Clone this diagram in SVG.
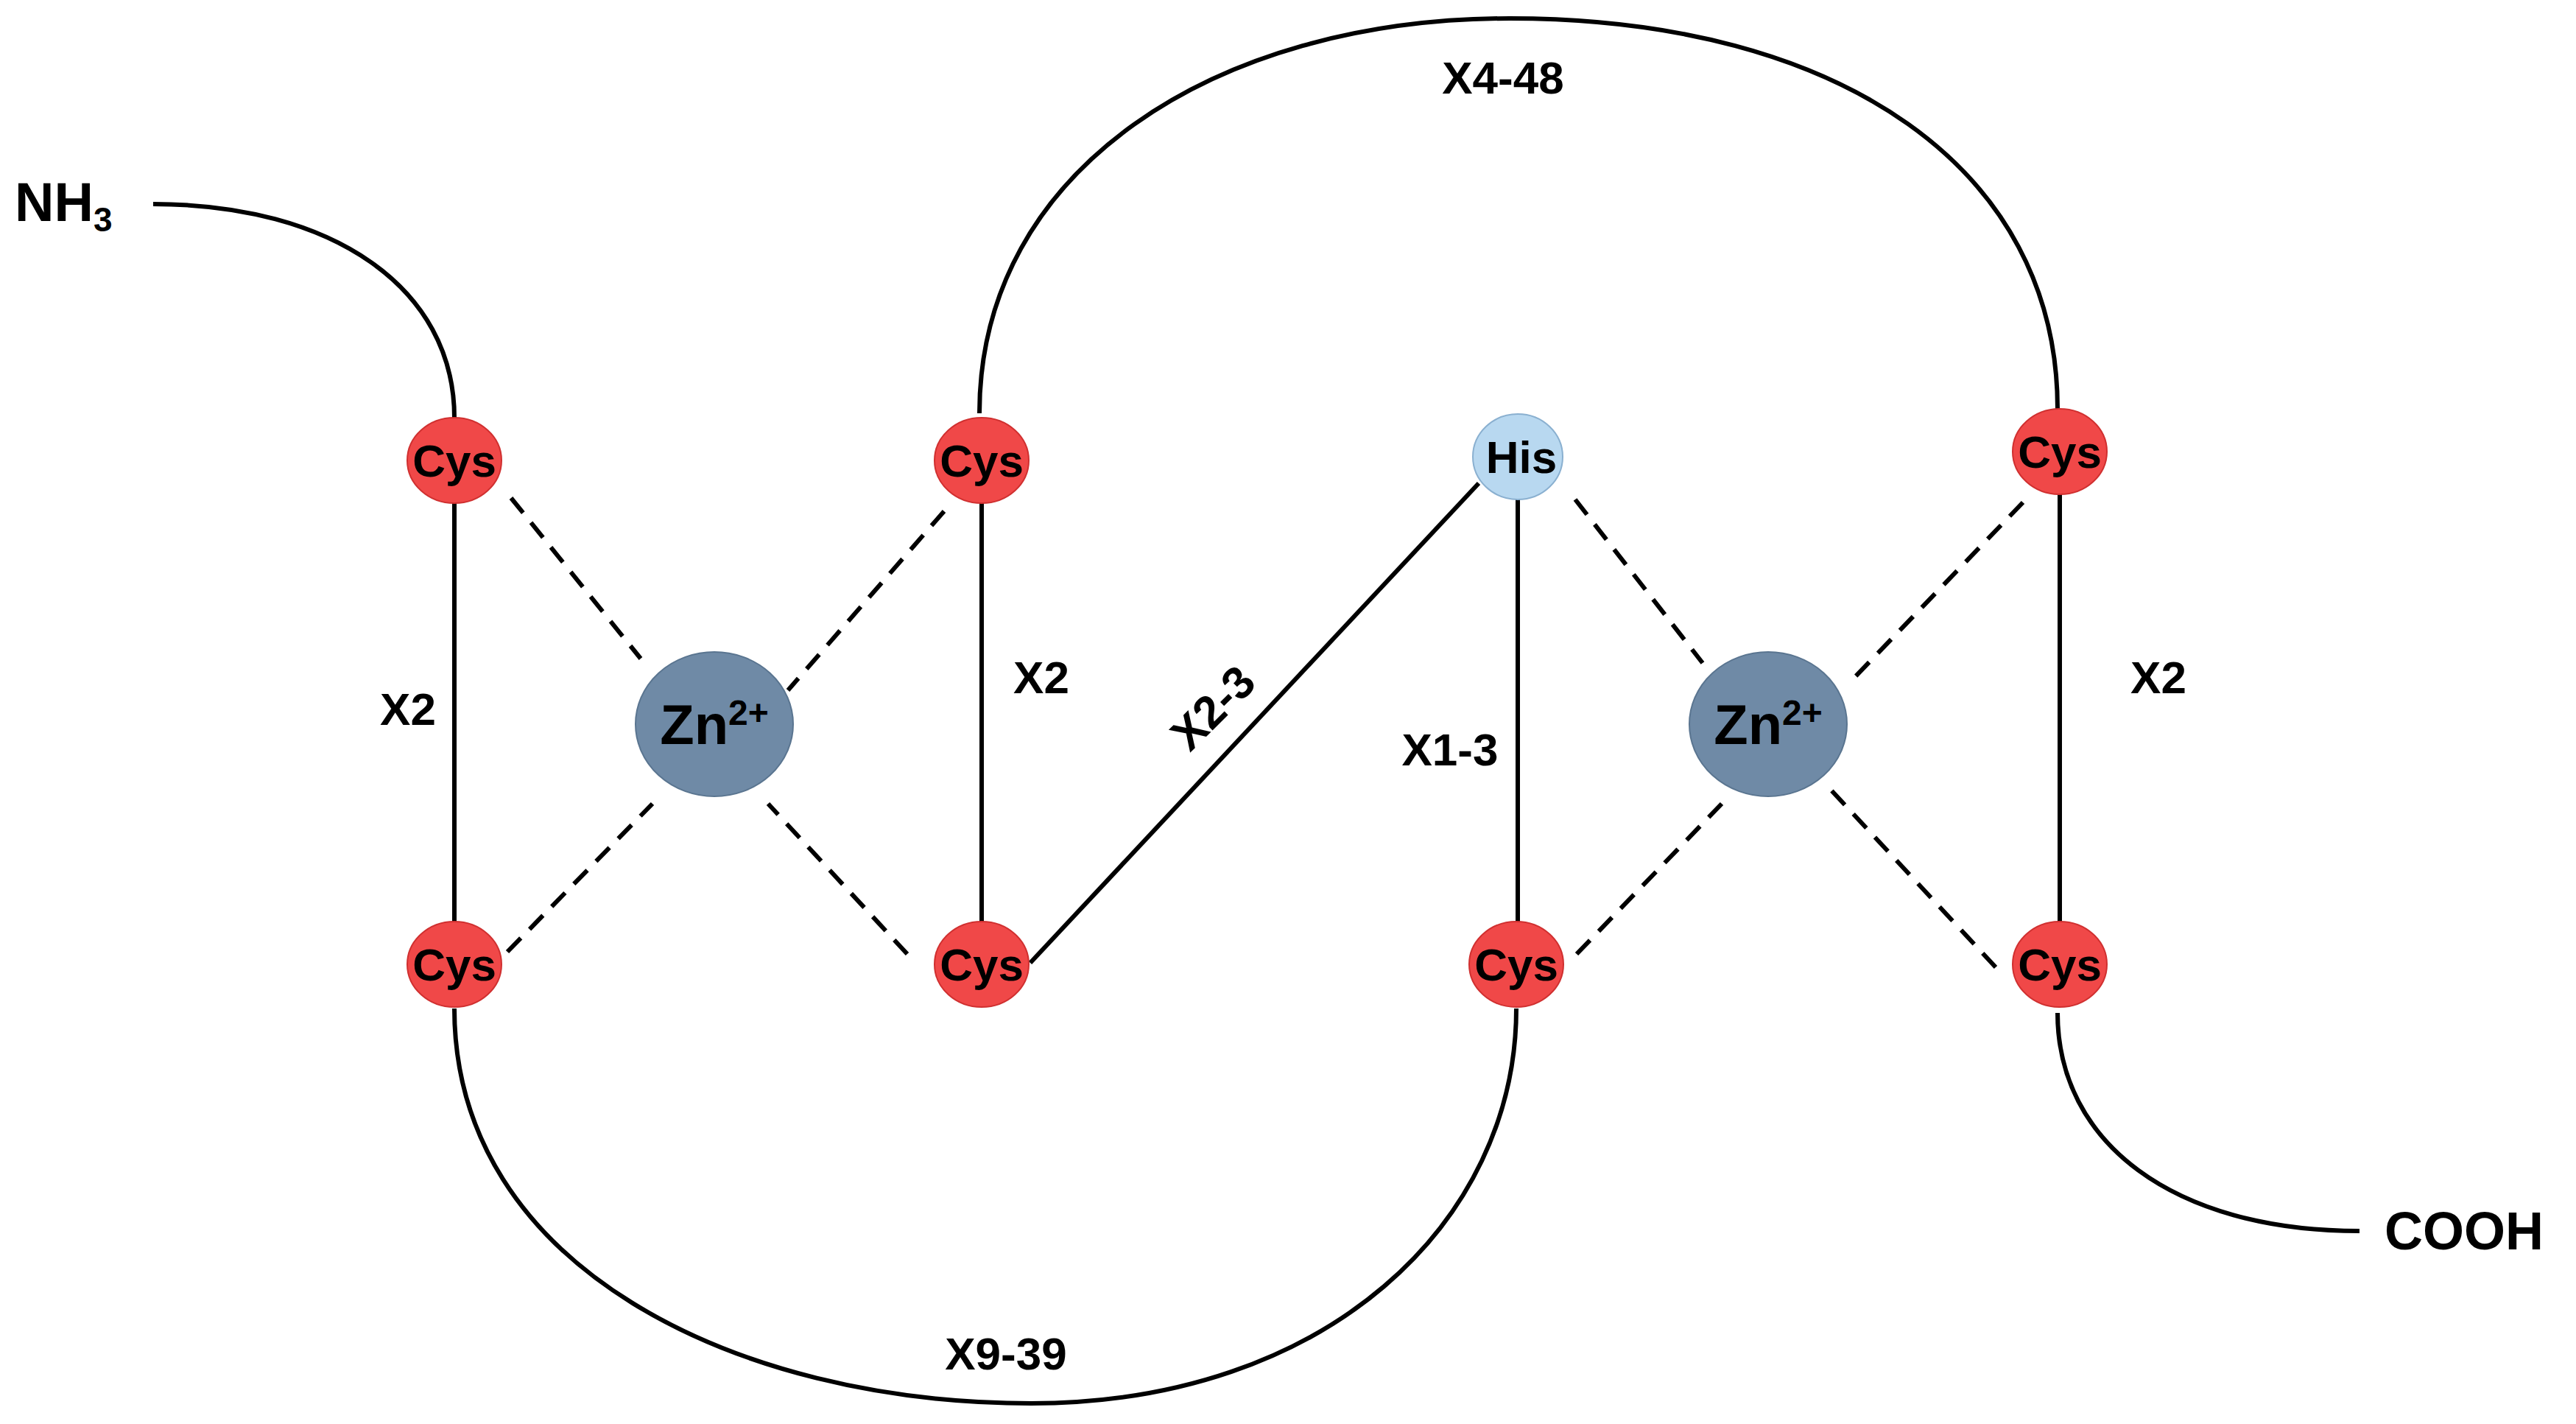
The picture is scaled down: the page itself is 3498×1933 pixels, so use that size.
<svg xmlns="http://www.w3.org/2000/svg" width="3498" height="1933" viewBox="0 0 3498 1933">
<style>
.ln{fill:none;stroke:#000;stroke-width:6}
.ds{fill:none;stroke:#000;stroke-width:6;stroke-dasharray:26 17}
.cys{fill:#f04848;stroke:#d03030;stroke-width:2}
.his{fill:#b8d8f0;stroke:#8ab0d0;stroke-width:2}
.zn{fill:#6f8aa6;stroke:#5a7590;stroke-width:2}
text{font-family:"Liberation Sans",Arial,sans-serif;font-weight:bold;fill:#000}
.nt{font-size:62px;text-anchor:middle}
.lb{font-size:62px;text-anchor:middle}
</style>
<rect width="3498" height="1933" fill="#fff"/>
<g id="connectors">
<path class="ln" d="M208,277 C450,277 617,390 617,567"/>
<path class="ln" d="M617,625 V1309"/>
<path class="ln" d="M1330,561 C1330,230 1650,25 2050,25 C2500,25 2794,230 2794,555"/>
<path class="ln" d="M1333,625 V1309"/>
<path class="ln" d="M1399,1307 L2008,656"/>
<path class="ln" d="M2061,620 V1309"/>
<path class="ln" d="M2797,613 V1309"/>
<path class="ln" d="M617,1369 C617,1720 1000,1905 1400,1905 C1800,1905 2059,1660 2059,1369"/>
<path class="ln" d="M2794,1375 C2794,1550 2950,1671 3204,1671"/>
<path class="ds" d="M694,676 L870,894 M1282,694 L1070,937 M689,1292 L886,1091 M1232,1295 L1043,1091"/>
<path class="ds" d="M2139,678 L2312,900 M2747,682 L2513,925 M2141,1295 L2338,1091 M2710,1313 L2487,1073"/>
</g>
<g id="zn1"><ellipse class="zn" cx="970" cy="983" rx="107" ry="98"/><text x="970" y="1010" font-size="76" text-anchor="middle">Zn<tspan font-size="48" dy="-26">2+</tspan></text></g>
<g id="zn2"><ellipse class="zn" cx="2401" cy="983" rx="107" ry="98"/><text x="2401" y="1010" font-size="76" text-anchor="middle">Zn<tspan font-size="48" dy="-26">2+</tspan></text></g>
<g id="cys1"><ellipse class="cys" cx="617" cy="625" rx="64" ry="58"/><text class="nt" x="617" y="647">Cys</text></g>
<g id="cys2"><ellipse class="cys" cx="617" cy="1309" rx="64" ry="58"/><text class="nt" x="617" y="1331">Cys</text></g>
<g id="cys3"><ellipse class="cys" cx="1333" cy="625" rx="64" ry="58"/><text class="nt" x="1333" y="647">Cys</text></g>
<g id="cys4"><ellipse class="cys" cx="1333" cy="1309" rx="64" ry="58"/><text class="nt" x="1333" y="1331">Cys</text></g>
<g id="his"><ellipse class="his" cx="2061" cy="620" rx="61" ry="58"/><text class="nt" x="2066" y="642">His</text></g>
<g id="cys5"><ellipse class="cys" cx="2059" cy="1309" rx="64" ry="58"/><text class="nt" x="2059" y="1331">Cys</text></g>
<g id="cys6"><ellipse class="cys" cx="2797" cy="613" rx="64" ry="58"/><text class="nt" x="2797" y="635">Cys</text></g>
<g id="cys7"><ellipse class="cys" cx="2797" cy="1309" rx="64" ry="58"/><text class="nt" x="2797" y="1331">Cys</text></g>
<g id="labels">
<text x="20" y="300" font-size="74">NH<tspan font-size="46" dy="14">3</tspan></text>
<text x="3238" y="1696" font-size="72">COOH</text>
<text class="lb" x="554" y="984">X2</text>
<text class="lb" x="1414" y="941">X2</text>
<text class="lb" x="2931" y="941">X2</text>
<text class="lb" x="1969" y="1039">X1-3</text>
<text class="lb" x="2041" y="127">X4-48</text>
<text class="lb" x="1366" y="1859">X9-39</text>
<text class="lb" transform="translate(1662,976) rotate(-45)">X2-3</text>
</g>
</svg>
